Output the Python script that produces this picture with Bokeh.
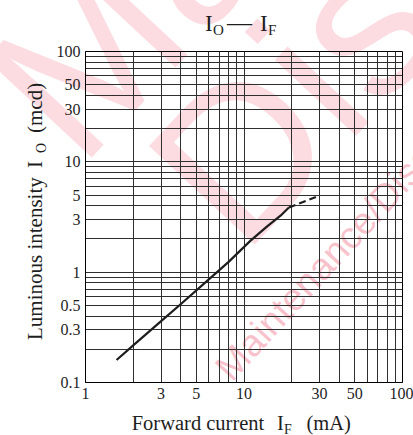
from bokeh.plotting import figure
from bokeh.models import FixedTicker, Div
from bokeh.layouts import column, row
from bokeh.embed import file_html
from bokeh.resources import INLINE

# ---- data ----
if_solid = [1.57, 2, 3, 4, 6, 8, 11, 14, 17, 19.2]
io_solid = [0.16, 0.217, 0.36, 0.515, 0.86, 1.24, 1.93, 2.6, 3.25, 3.86]
if_dash = [19.2, 30]
io_dash = [3.86, 4.95]

x_major = [1, 3, 5, 10, 30, 50, 100]
x_labels = ["1", "3", "5", "10", "30", "50", "100"]
x_minor = [2, 4, 6, 7, 8, 9, 20, 40, 60, 70, 80, 90]
y_major = [0.1, 0.3, 0.5, 1, 3, 5, 10, 30, 50, 100]
y_labels = ["0.1", "0.3", "0.5", "1", "3", "5", "10", "30", "50", "100"]
y_minor = [0.2, 0.4, 0.6, 0.7, 0.8, 0.9, 2, 4, 6, 7, 8, 9, 20, 40, 60, 70, 80, 90]

title_main, title_sub1, title_dash, title_sym, title_sub2 = "I", "O", "\u2014", "I", "F"
xlabel_main, xlabel_sym, xlabel_sub, xlabel_unit = "Forward current", "I", "F", "(mA)"
ylabel_main, ylabel_sym, ylabel_sub, ylabel_unit = "Luminous intensity", "I", "O", "(mcd)"
watermark_big = ["Maintenance/", "Discontinued"]
watermark_small = "Maintenance/Discontinued"

FONT = "Liberation Serif"
INK = "#1e1e1e"
GRID = "#2e2e2e"

W, H = 413, 435
WL, HT, HB = 45, 41, 25          # left label strip, title strip, bottom label strip
PH = H - HT - HB                  # figure height (369)

p = figure(width=W - WL, height=PH, x_axis_type="log", y_axis_type="log",
           x_range=(1, 100), y_range=(0.1, 100), title=None,
           output_backend="svg", toolbar_location=None, margin=0,
           min_border_left=40, min_border_right=11, min_border_top=10, min_border_bottom=28)
p.background_fill_alpha = 0
p.border_fill_alpha = 0
p.outline_line_color = "black"
p.outline_line_width = 1

for ax, maj, lab, mnr in ((p.xaxis[0], x_major, x_labels, x_minor),
                          (p.yaxis[0], y_major, y_labels, y_minor)):
    ax.ticker = FixedTicker(ticks=maj, minor_ticks=mnr)
    ax.major_label_overrides = dict(zip(maj, lab))
    ax.major_tick_in = 0
    ax.major_tick_out = 0
    ax.minor_tick_in = 0
    ax.minor_tick_out = 0
    ax.axis_line_color = "black"
    ax.axis_line_width = 1
    ax.major_label_text_font = FONT
    ax.major_label_text_font_size = "16px"
    ax.major_label_text_color = INK
    ax.major_label_standoff = 5

for g in (p.xgrid[0], p.ygrid[0]):
    g.grid_line_color = GRID
    g.grid_line_width = 1
    g.minor_grid_line_color = GRID
    g.minor_grid_line_width = 1

p.line(if_solid, io_solid, line_width=2.2, line_color=INK)
p.line(if_dash, io_dash, line_width=2.2, line_color=INK, line_dash="7 4")


def st(size, font=FONT):
    return f"font-family:'{font}';font-size:{size}px"


def svg(w, h, body):
    return (f'<svg xmlns="http://www.w3.org/2000/svg" width="{w}" height="{h}" '
            f'style="display:block;overflow:visible">{body}</svg>')


# watermark (page coordinates; the title strip's svg overflows onto the page)
wm = (f'<g style="{st(210, "Liberation Sans")}" fill="#f04a6a" fill-opacity="0.2">'
      f'<text transform="translate(80,170) rotate(-47)">{watermark_big[0]}</text>'
      f'<text transform="translate(243,257) rotate(-47)">{watermark_big[1]}</text></g>'
      f'<text transform="translate(232,383) rotate(-47.5)" style="{st(38, "Liberation Sans")}" '
      f'fill="#ec4f6c" fill-opacity="0.35">{watermark_small}</text>')

title_svg = svg(W, HT, wm +
                f'<g fill="{INK}">'
                f'<text x="205" y="30.7" style="{st(23)}">{title_main}</text>'
                f'<text x="213" y="34.5" style="{st(15)}">{title_sub1}</text>'
                f'<text x="227" y="30.7" style="{st(25)}">{title_dash}</text>'
                f'<text x="260" y="30.7" style="{st(23)}">{title_sym}</text>'
                f'<text x="268" y="34.5" style="{st(15)}">{title_sub2}</text></g>')

y0 = 340 - HT
ylab_svg = svg(WL, PH,
               f'<text transform="translate(41.7,{y0:.1f}) rotate(-90)" fill="{INK}" style="{st(21)}">{ylabel_main}'
               f'<tspan x="172">{ylabel_sym}</tspan>'
               f'<tspan x="187" dy="4" style="{st(14)}">{ylabel_sub}</tspan>'
               f'<tspan x="207" dy="-4" style="{st(21)}">{ylabel_unit}</tspan></text>')

xb = 430 - HT - PH
xlab_svg = svg(W, HB,
               f'<text x="131.7" y="{xb}" fill="{INK}" style="{st(20.5)}">{xlabel_main}'
               f'<tspan x="277">{xlabel_sym}</tspan>'
               f'<tspan x="284" dy="3.5" style="{st(14)}">{xlabel_sub}</tspan>'
               f'<tspan x="306.5" dy="-3.5" style="{st(20.5)}">{xlabel_unit}</tspan></text>')

title_div = Div(text=title_svg, width=W, height=HT, margin=0)
ylab_div = Div(text=ylab_svg, width=WL, height=PH, margin=0)
xlab_div = Div(text=xlab_svg, width=W, height=HB, margin=0)

layout = column(title_div, row(ylab_div, p, spacing=0, margin=0), xlab_div, spacing=0, margin=0)

open("out.html", "w").write(file_html(layout, INLINE))
